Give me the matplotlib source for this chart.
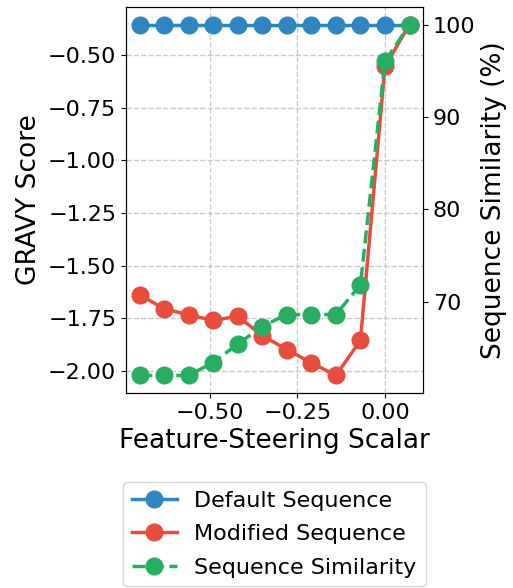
import numpy as np
import matplotlib
matplotlib.use("Agg")
import matplotlib.pyplot as plt

# steering scalar values
scalars = [-0.70, -0.63, -0.56, -0.49, -0.42, -0.35, -0.28, -0.21, -0.14, -0.07, 0.00, 0.07]
# GRAVY scores
default_gravy = [-0.356] * 12
modified_gravy = [-1.637, -1.705, -1.733, -1.760, -1.740, -1.832, -1.898, -1.961, -2.021, -1.855, -0.555, -0.356]
# sequence similarity (%)
similarity = [62.0, 62.0, 62.0, 63.4, 65.4, 67.3, 68.6, 68.6, 68.6, 71.8, 96.0, 100.0]

BLUE, RED, GREEN = "#2e86c1", "#e74c3c", "#27ae60"

fig = plt.figure(figsize=(5.13, 5.88), dpi=100)
ax = fig.add_axes([126 / 513, 1 - 393 / 588, 297 / 513, 386 / 588])
ax2 = ax.twinx()

l1, = ax.plot(scalars, default_gravy, "-o", color=BLUE, lw=2.5, ms=12, label="Default Sequence")
l2, = ax.plot(scalars, modified_gravy, "-o", color=RED, lw=2.5, ms=12, label="Modified Sequence")
l3, = ax2.plot(scalars, similarity, "--o", color=GREEN, lw=2.5, ms=12, label="Sequence Similarity")

ax.grid(True, linestyle="--", color="#c8c8c8", lw=1)
ax.set_xticks([-0.5, -0.25, 0.0])
ax.set_yticks([-0.5, -0.75, -1.0, -1.25, -1.5, -1.75, -2.0])
ax2.set_yticks([70, 80, 90, 100])
ax.tick_params(labelsize=16)
ax2.tick_params(labelsize=16)
ax.set_xlabel("Feature-Steering Scalar", fontsize=19)
ax.set_ylabel("GRAVY Score", fontsize=19)
ax2.set_ylabel("Sequence Similarity (%)", fontsize=19)

fig.legend(handles=[l1, l2, l3], loc="upper center", bbox_to_anchor=(0.535, 1 - 482 / 588),
           fontsize=16, frameon=True, borderaxespad=0, labelspacing=0.6)

fig.savefig("out.png", dpi=100)
